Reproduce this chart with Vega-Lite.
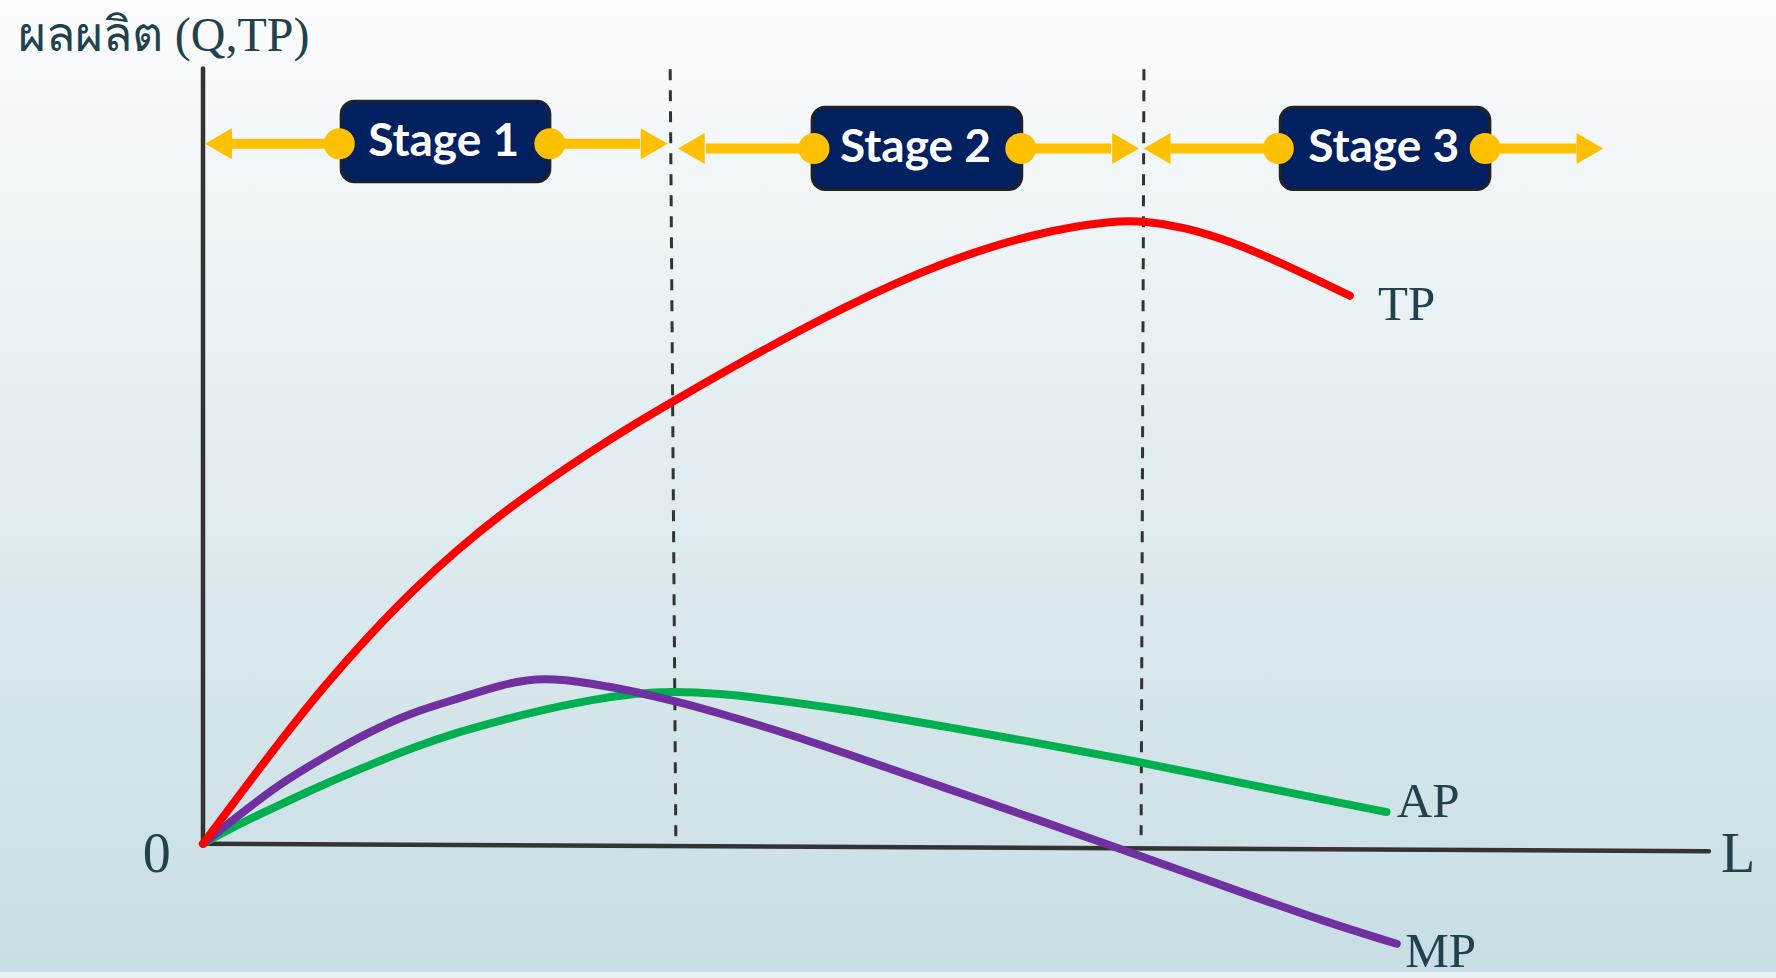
{
  "$schema": "https://vega.github.io/schema/vega-lite/v6.json",
  "autosize": {"type": "fit", "contains": "padding"},
  "width": 1776,
  "height": 978,
  "padding": 0,
  "background": "#e6eff2",
  "config": {"view": {"stroke": null}},
  "datasets": {
    "curves": [
      {"curve": "TP", "L": 0, "Q": 0},
      {"curve": "TP", "L": 0.34, "Q": 5.5},
      {"curve": "TP", "L": 0.81, "Q": 13.1},
      {"curve": "TP", "L": 1.29, "Q": 20.4},
      {"curve": "TP", "L": 1.76, "Q": 26.8},
      {"curve": "TP", "L": 2.23, "Q": 32.7},
      {"curve": "TP", "L": 2.71, "Q": 38.0},
      {"curve": "TP", "L": 3.19, "Q": 42.7},
      {"curve": "TP", "L": 3.66, "Q": 46.8},
      {"curve": "TP", "L": 4.14, "Q": 50.7},
      {"curve": "TP", "L": 4.61, "Q": 54.3},
      {"curve": "TP", "L": 4.99, "Q": 57.0},
      {"curve": "TP", "L": 5.79, "Q": 62.6},
      {"curve": "TP", "L": 6.82, "Q": 69.3},
      {"curve": "TP", "L": 7.85, "Q": 75.0},
      {"curve": "TP", "L": 8.88, "Q": 78.9},
      {"curve": "TP", "L": 9.70, "Q": 80.4},
      {"curve": "TP", "L": 10.02, "Q": 80.3},
      {"curve": "TP", "L": 10.43, "Q": 79.6},
      {"curve": "TP", "L": 10.94, "Q": 77.7},
      {"curve": "TP", "L": 11.46, "Q": 75.0},
      {"curve": "TP", "L": 12.20, "Q": 70.7},
      {"curve": "AP", "L": 0, "Q": 0},
      {"curve": "AP", "L": 0.34, "Q": 2.3},
      {"curve": "AP", "L": 0.81, "Q": 5.0},
      {"curve": "AP", "L": 1.29, "Q": 7.7},
      {"curve": "AP", "L": 1.76, "Q": 10.1},
      {"curve": "AP", "L": 2.23, "Q": 12.4},
      {"curve": "AP", "L": 2.71, "Q": 14.4},
      {"curve": "AP", "L": 3.19, "Q": 16.0},
      {"curve": "AP", "L": 3.66, "Q": 17.4},
      {"curve": "AP", "L": 4.14, "Q": 18.6},
      {"curve": "AP", "L": 4.61, "Q": 19.4},
      {"curve": "AP", "L": 4.99, "Q": 19.7},
      {"curve": "AP", "L": 5.56, "Q": 19.3},
      {"curve": "AP", "L": 5.79, "Q": 19.0},
      {"curve": "AP", "L": 6.82, "Q": 17.4},
      {"curve": "AP", "L": 7.85, "Q": 15.2},
      {"curve": "AP", "L": 8.88, "Q": 13.0},
      {"curve": "AP", "L": 9.91, "Q": 10.7},
      {"curve": "AP", "L": 10.94, "Q": 8.1},
      {"curve": "AP", "L": 11.97, "Q": 5.6},
      {"curve": "AP", "L": 12.59, "Q": 4.1},
      {"curve": "MP", "L": 0, "Q": 0},
      {"curve": "MP", "L": 0.34, "Q": 3.3},
      {"curve": "MP", "L": 0.81, "Q": 7.7},
      {"curve": "MP", "L": 1.29, "Q": 11.2},
      {"curve": "MP", "L": 1.76, "Q": 14.4},
      {"curve": "MP", "L": 2.23, "Q": 17.0},
      {"curve": "MP", "L": 2.71, "Q": 18.7},
      {"curve": "MP", "L": 3.19, "Q": 20.6},
      {"curve": "MP", "L": 3.61, "Q": 21.5},
      {"curve": "MP", "L": 4.14, "Q": 20.7},
      {"curve": "MP", "L": 4.61, "Q": 19.6},
      {"curve": "MP", "L": 5.09, "Q": 18.2},
      {"curve": "MP", "L": 5.56, "Q": 16.6},
      {"curve": "MP", "L": 6.03, "Q": 14.9},
      {"curve": "MP", "L": 6.51, "Q": 13.0},
      {"curve": "MP", "L": 6.82, "Q": 11.75},
      {"curve": "MP", "L": 7.85, "Q": 7.4},
      {"curve": "MP", "L": 8.88, "Q": 3.1},
      {"curve": "MP", "L": 9.91, "Q": -1.3},
      {"curve": "MP", "L": 10.94, "Q": -5.8},
      {"curve": "MP", "L": 11.97, "Q": -10.2},
      {"curve": "MP", "L": 12.70, "Q": -12.9}
    ],
    "axes": [
      {"line": "Q axis", "L": 0, "Q": 0, "L2": 0, "Q2": 100},
      {"line": "L axis", "L": 0, "Q": 0, "L2": 16.02, "Q2": -0.96}
    ],
    "boundaries": [
      {"between": "1-2", "L": 4.97, "Q": 99.9, "L2": 5.03, "Q2": 0.9},
      {"between": "2-3", "L": 10.01, "Q": 99.9, "L2": 9.98, "Q2": 1.1}
    ],
    "stages": [
      {"stage": "Stage 1", "L": 1.47, "L2": 3.69, "Q": 85.4, "Q2": 95.8, "Lc": 2.56, "Qc": 90.5},
      {"stage": "Stage 2", "L": 6.48, "L2": 8.71, "Q": 84.4, "Q2": 95.0, "Lc": 7.58, "Qc": 89.7},
      {"stage": "Stage 3", "L": 11.46, "L2": 13.69, "Q": 84.4, "Q2": 95.0, "Lc": 12.56, "Qc": 89.7}
    ],
    "shafts": [
      {"stage": "Stage 1", "L": 0.30, "L2": 1.45, "Q": 90.3},
      {"stage": "Stage 1", "L": 3.69, "L2": 4.65, "Q": 90.3},
      {"stage": "Stage 2", "L": 5.35, "L2": 6.50, "Q": 89.7},
      {"stage": "Stage 2", "L": 8.70, "L2": 9.66, "Q": 89.7},
      {"stage": "Stage 3", "L": 10.29, "L2": 11.44, "Q": 89.7},
      {"stage": "Stage 3", "L": 13.64, "L2": 14.61, "Q": 89.7}
    ],
    "knobs": [
      {"stage": "Stage 1", "L": 1.45, "Q": 90.3},
      {"stage": "Stage 1", "L": 3.69, "Q": 90.3},
      {"stage": "Stage 2", "L": 6.50, "Q": 89.7},
      {"stage": "Stage 2", "L": 8.70, "Q": 89.7},
      {"stage": "Stage 3", "L": 11.44, "Q": 89.7},
      {"stage": "Stage 3", "L": 13.64, "Q": 89.7}
    ],
    "heads": [
      {"stage": "Stage 1", "dir": "left", "L": 0.165, "Q": 90.3},
      {"stage": "Stage 1", "dir": "right", "L": 4.80, "Q": 90.3},
      {"stage": "Stage 2", "dir": "left", "L": 5.195, "Q": 89.7},
      {"stage": "Stage 2", "dir": "right", "L": 9.815, "Q": 89.7},
      {"stage": "Stage 3", "dir": "left", "L": 10.15, "Q": 89.7},
      {"stage": "Stage 3", "dir": "right", "L": 14.755, "Q": 89.7}
    ],
    "curveLabels": [
      {"text": "TP", "L": 12.5, "Q": 67.6},
      {"text": "AP", "L": 12.7, "Q": 3.5},
      {"text": "MP", "L": 12.79, "Q": -15.9}
    ],
    "axisLabels": [
      {"text": "0", "L": -0.64, "Q": -3.6},
      {"text": "L", "L": 16.15, "Q": -3.6}
    ],
    "title": [
      {"text": "ผลผลิต (Q,TP)", "L": -1.97, "Q": 102.3}
    ]
  },
  "layer": [
    {
      "data": {"values": [{}]},
      "mark": {
        "type": "rect",
        "fill": {
          "gradient": "linear",
          "x1": 0, "y1": 0, "x2": 0, "y2": 1,
          "stops": [
            {"offset": 0, "color": "#fbfcfd"},
            {"offset": 0.5, "color": "#e0ecf0"},
            {"offset": 1, "color": "#c8dee4"}
          ]
        }
      }
    },
    {
      "data": {"name": "axes"},
      "mark": {"type": "rule", "color": "#333333", "strokeWidth": 4.5, "strokeCap": "round"},
      "encoding": {
        "x": {"field": "L", "type": "quantitative", "scale": {"domain": [-2.1596, 16.734], "nice": false, "zero": false}, "axis": null},
        "y": {"field": "Q", "type": "quantitative", "scale": {"domain": [-16.538, 108.846], "nice": false, "zero": false}, "axis": null},
        "x2": {"field": "L2"},
        "y2": {"field": "Q2"}
      }
    },
    {
      "data": {"name": "boundaries"},
      "mark": {"type": "rule", "color": "#333333", "strokeWidth": 3, "strokeDash": [11, 10]},
      "encoding": {
        "x": {"field": "L", "type": "quantitative", "scale": {"domain": [-2.1596, 16.734], "nice": false, "zero": false}, "axis": null},
        "y": {"field": "Q", "type": "quantitative", "scale": {"domain": [-16.538, 108.846], "nice": false, "zero": false}, "axis": null},
        "x2": {"field": "L2"},
        "y2": {"field": "Q2"}
      }
    },
    {
      "data": {"name": "curves"},
      "transform": [{"filter": "datum.curve === 'AP'"}],
      "mark": {"type": "line", "color": "#00b050", "strokeWidth": 8, "strokeCap": "round", "strokeJoin": "round", "interpolate": "basis"},
      "encoding": {
        "x": {"field": "L", "type": "quantitative", "scale": {"domain": [-2.1596, 16.734], "nice": false, "zero": false}, "axis": null},
        "y": {"field": "Q", "type": "quantitative", "scale": {"domain": [-16.538, 108.846], "nice": false, "zero": false}, "axis": null}
      }
    },
    {
      "data": {"name": "curves"},
      "transform": [{"filter": "datum.curve === 'MP'"}],
      "mark": {"type": "line", "color": "#7030a0", "strokeWidth": 8, "strokeCap": "round", "strokeJoin": "round", "interpolate": "basis"},
      "encoding": {
        "x": {"field": "L", "type": "quantitative", "scale": {"domain": [-2.1596, 16.734], "nice": false, "zero": false}, "axis": null},
        "y": {"field": "Q", "type": "quantitative", "scale": {"domain": [-16.538, 108.846], "nice": false, "zero": false}, "axis": null}
      }
    },
    {
      "data": {"name": "curves"},
      "transform": [{"filter": "datum.curve === 'TP'"}],
      "mark": {"type": "line", "color": "#ff0000", "strokeWidth": 8, "strokeCap": "round", "strokeJoin": "round", "interpolate": "basis"},
      "encoding": {
        "x": {"field": "L", "type": "quantitative", "scale": {"domain": [-2.1596, 16.734], "nice": false, "zero": false}, "axis": null},
        "y": {"field": "Q", "type": "quantitative", "scale": {"domain": [-16.538, 108.846], "nice": false, "zero": false}, "axis": null}
      }
    },
    {
      "data": {"name": "shafts"},
      "mark": {"type": "rule", "color": "#ffc000", "strokeWidth": 10},
      "encoding": {
        "x": {"field": "L", "type": "quantitative", "scale": {"domain": [-2.1596, 16.734], "nice": false, "zero": false}, "axis": null},
        "y": {"field": "Q", "type": "quantitative", "scale": {"domain": [-16.538, 108.846], "nice": false, "zero": false}, "axis": null},
        "x2": {"field": "L2"}
      }
    },
    {
      "data": {"name": "heads"},
      "transform": [{"filter": "datum.dir === 'left'"}],
      "mark": {"type": "point", "shape": "triangle-left", "filled": true, "color": "#ffc000", "opacity": 1, "size": 961, "strokeWidth": 0},
      "encoding": {
        "x": {"field": "L", "type": "quantitative", "scale": {"domain": [-2.1596, 16.734], "nice": false, "zero": false}, "axis": null},
        "y": {"field": "Q", "type": "quantitative", "scale": {"domain": [-16.538, 108.846], "nice": false, "zero": false}, "axis": null}
      }
    },
    {
      "data": {"name": "heads"},
      "transform": [{"filter": "datum.dir === 'right'"}],
      "mark": {"type": "point", "shape": "triangle-right", "filled": true, "color": "#ffc000", "opacity": 1, "size": 961, "strokeWidth": 0},
      "encoding": {
        "x": {"field": "L", "type": "quantitative", "scale": {"domain": [-2.1596, 16.734], "nice": false, "zero": false}, "axis": null},
        "y": {"field": "Q", "type": "quantitative", "scale": {"domain": [-16.538, 108.846], "nice": false, "zero": false}, "axis": null}
      }
    },
    {
      "data": {"name": "stages"},
      "mark": {"type": "rect", "fill": "#002060", "stroke": "#222222", "strokeWidth": 3, "cornerRadius": 13},
      "encoding": {
        "x": {"field": "L", "type": "quantitative", "scale": {"domain": [-2.1596, 16.734], "nice": false, "zero": false}, "axis": null},
        "y": {"field": "Q", "type": "quantitative", "scale": {"domain": [-16.538, 108.846], "nice": false, "zero": false}, "axis": null},
        "x2": {"field": "L2"},
        "y2": {"field": "Q2"}
      }
    },
    {
      "data": {"name": "knobs"},
      "mark": {"type": "point", "shape": "circle", "filled": true, "color": "#ffc000", "opacity": 1, "size": 961, "strokeWidth": 0},
      "encoding": {
        "x": {"field": "L", "type": "quantitative", "scale": {"domain": [-2.1596, 16.734], "nice": false, "zero": false}, "axis": null},
        "y": {"field": "Q", "type": "quantitative", "scale": {"domain": [-16.538, 108.846], "nice": false, "zero": false}, "axis": null}
      }
    },
    {
      "data": {"name": "stages"},
      "mark": {"type": "text", "color": "#ffffff", "font": "Lato", "fontWeight": "bold", "fontSize": 46, "align": "center", "baseline": "middle"},
      "encoding": {
        "x": {"field": "Lc", "type": "quantitative", "scale": {"domain": [-2.1596, 16.734], "nice": false, "zero": false}, "axis": null},
        "y": {"field": "Qc", "type": "quantitative", "scale": {"domain": [-16.538, 108.846], "nice": false, "zero": false}, "axis": null},
        "text": {"field": "stage"}
      }
    },
    {
      "data": {"name": "curveLabels"},
      "mark": {"type": "text", "color": "#21424c", "font": "Liberation Serif", "fontSize": 49, "align": "left", "baseline": "alphabetic"},
      "encoding": {
        "x": {"field": "L", "type": "quantitative", "scale": {"domain": [-2.1596, 16.734], "nice": false, "zero": false}, "axis": null},
        "y": {"field": "Q", "type": "quantitative", "scale": {"domain": [-16.538, 108.846], "nice": false, "zero": false}, "axis": null},
        "text": {"field": "text"}
      }
    },
    {
      "data": {"name": "axisLabels"},
      "mark": {"type": "text", "color": "#21424c", "font": "Liberation Serif", "fontSize": 56, "align": "left", "baseline": "alphabetic"},
      "encoding": {
        "x": {"field": "L", "type": "quantitative", "scale": {"domain": [-2.1596, 16.734], "nice": false, "zero": false}, "axis": null},
        "y": {"field": "Q", "type": "quantitative", "scale": {"domain": [-16.538, 108.846], "nice": false, "zero": false}, "axis": null},
        "text": {"field": "text"}
      }
    },
    {
      "data": {"name": "title"},
      "mark": {"type": "text", "color": "#21424c", "font": "Liberation Serif", "fontSize": 48, "align": "left", "baseline": "alphabetic"},
      "encoding": {
        "x": {"field": "L", "type": "quantitative", "scale": {"domain": [-2.1596, 16.734], "nice": false, "zero": false}, "axis": null},
        "y": {"field": "Q", "type": "quantitative", "scale": {"domain": [-16.538, 108.846], "nice": false, "zero": false}, "axis": null},
        "text": {"field": "text"}
      }
    }
  ]
}
